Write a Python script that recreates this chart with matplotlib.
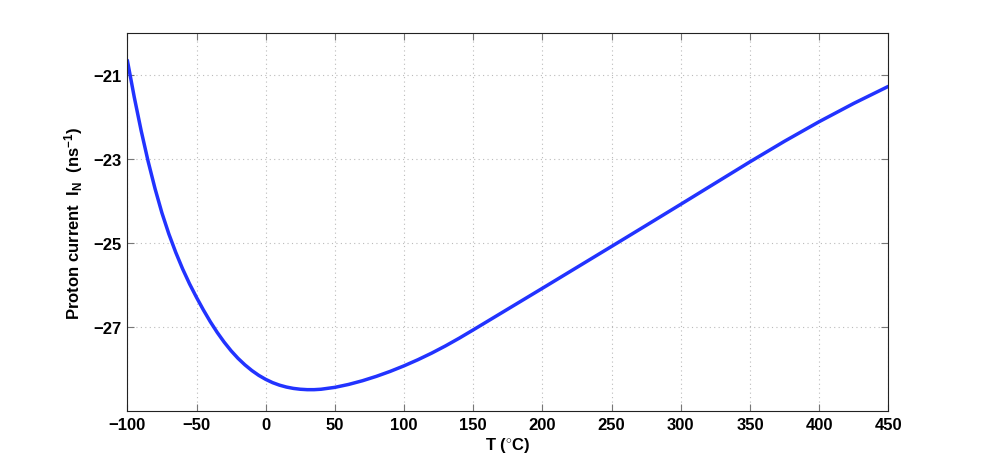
import matplotlib
matplotlib.use("Agg")
import matplotlib.pyplot as plt

plt.rcParams['font.family'] = ['Liberation Sans', 'DejaVu Sans']
plt.rcParams['font.weight'] = 'bold'
plt.rcParams['mathtext.fontset'] = 'custom'
plt.rcParams['mathtext.rm'] = 'Liberation Sans:bold'
plt.rcParams['mathtext.it'] = 'Liberation Sans:bold'
plt.rcParams['mathtext.bf'] = 'Liberation Sans:bold'
plt.rcParams['mathtext.default'] = 'rm'

temperature = [-100, -95, -90, -85, -80, -75, -70, -65, -60, -55, -50, -45, -40,
               -35, -30, -25, -20, -15, -10, -5, 0, 5, 10, 15, 20, 25, 30, 35,
               40, 50, 60, 70, 80, 90, 100, 110, 120, 130, 140, 150, 175, 200,
               225, 250, 275, 300, 325, 350, 375, 400, 425, 450]
current = [-20.65, -21.525, -22.325, -23.05, -23.70, -24.28, -24.78, -25.22,
           -25.615, -25.97, -26.29, -26.59, -26.87, -27.125, -27.355, -27.56,
           -27.74, -27.895, -28.03, -28.145, -28.24, -28.318, -28.378, -28.423,
           -28.455, -28.475, -28.485, -28.485, -28.475, -28.43, -28.36,
           -28.272, -28.168, -28.05, -27.918, -27.773, -27.615, -27.443,
           -27.258, -27.063, -26.568, -26.073, -25.575, -25.077, -24.577,
           -24.075, -23.57, -23.065, -22.575, -22.11, -21.675, -21.27]
x_ticks = [-100, -50, 0, 50, 100, 150, 200, 250, 300, 350, 400, 450]
y_ticks = [-21, -23, -25, -27]

fig = plt.figure(figsize=(9.81, 4.64), dpi=100)
ax = fig.add_axes([0.1298, 0.1114, 0.7757, 0.8153])
ax.plot(temperature, current, color='#2233ff', lw=2.5, solid_capstyle='round',
        solid_joinstyle='round')
ax.set_xlim(-100, 450)
ax.set_ylim(-29, -20)
ax.set_xticks(x_ticks)
ax.set_yticks(y_ticks)
ax.set_xticklabels([str(t).replace('-', '\u2212') for t in x_ticks])
ax.set_yticklabels([str(t).replace('-', '\u2212') for t in y_ticks])
ax.grid(True, linestyle=(0, (1, 3)), color='#bbbbbb', lw=0.8)
ax.tick_params(direction='in', length=5, width=0.8, color='#777777',
               top=True, right=True, labelsize=12, pad=4)
for lab in ax.get_xticklabels() + ax.get_yticklabels():
    lab.set_fontweight('bold')
for s in ax.spines.values():
    s.set_color('#222222')
    s.set_linewidth(0.8)
ax.set_xlabel(r'T ($^{\circ}$C)', fontsize=12, fontweight='bold', labelpad=2)
ax.set_ylabel(r'Proton current  I$_{N}$  (ns$^{-1}$)', fontsize=12,
              fontweight='bold', labelpad=6)
fig.savefig('out.png', dpi=100)
